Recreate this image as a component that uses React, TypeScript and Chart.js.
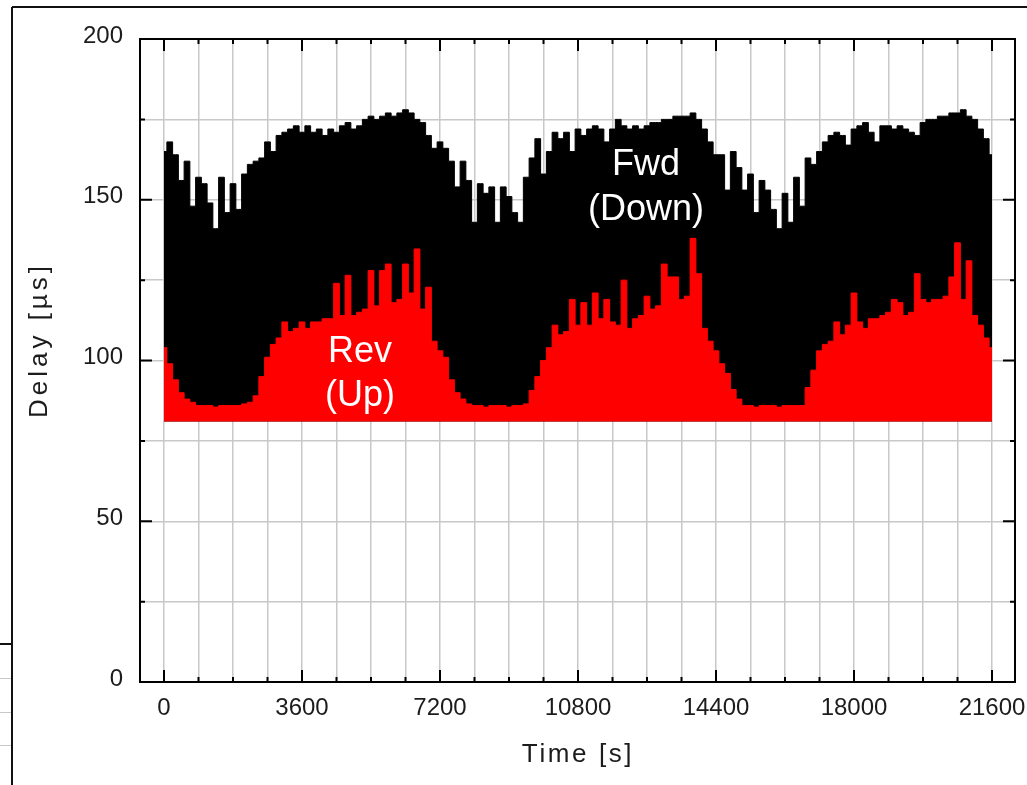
import React, { useEffect, useRef } from "react";
import { Chart, registerables } from "chart.js";

Chart.register(...registerables);

// Sampling interval of the delay series (seconds)
const SAMPLE_STEP_S = 150;

// Forward (downstream) delay in microseconds, one value per sample
const FWD_DELAY_US = [
  165, 168, 164, 156, 162, 148, 157, 155, 149, 141, 157, 146, 155, 147, 158, 161, 162, 163, 168, 165, 170, 171, 172, 173,
  171, 173, 171, 172, 170, 172, 171, 173, 174, 172, 173, 175, 176, 175, 176, 177, 176, 177, 178, 177, 175, 174, 170, 166,
  168, 166, 162, 154, 162, 156, 143, 155, 152, 154, 143, 154, 151, 146, 143, 157, 163, 169, 158, 165, 171, 169, 171, 165, 172,
  170, 172, 173, 172, 168, 172, 175, 173, 172, 173, 172, 173, 174, 174, 175, 175, 176, 176, 176, 177, 175, 172, 168, 164,
  164, 153, 165, 160, 153, 158, 146, 156, 153, 147, 141, 152, 143, 157, 148, 163, 161, 165, 168, 170, 171, 170, 167, 172, 173,
  174, 171, 168, 173, 173, 172, 173, 172, 171, 170, 174, 175, 175, 176, 176, 177, 177, 178, 176, 175, 172, 169, 164,
];

// Reverse (upstream) delay in microseconds, one value per sample
const REV_DELAY_US = [
  104, 99, 94, 90, 88, 87, 86, 86, 86, 85.5, 86, 86, 86, 86, 86.5, 87, 89, 95, 101, 105, 107, 112, 109, 110,
  112, 110, 112, 112, 113, 113, 124, 114, 126.5, 114, 115, 116, 128, 117, 128, 130, 118, 119, 130, 121, 134.7, 116, 122.8, 106,
  103, 101, 94, 90, 88, 86.5, 86, 86, 85.5, 86, 86, 86, 85.5, 86, 86, 86.5, 90.7, 95, 100, 104, 111, 108, 109, 119, 111,
  118, 111, 121, 113, 119, 112, 111, 125, 110, 113, 114, 120, 116, 117, 130, 126, 126, 119, 120, 138, 127, 110, 106, 103,
  99, 96, 91, 88, 86, 86, 85.5, 86, 86, 86, 85.5, 86, 86, 86, 86, 91.6, 97, 103, 105, 106, 112, 108, 111, 121, 112,
  110, 113, 113, 114, 115, 119, 118, 114, 115, 127, 119, 118, 119, 119, 120, 126, 136.6, 119, 131, 114, 111, 107, 104,
];

// Floor of the delay fill (microseconds)
const BASELINE_US = 81;

// Axis ticks
const X_GRID_TICKS = [
  0, 900, 1800, 2700, 3600, 4500, 5400, 6300, 7200, 8100, 9000, 9900, 10800, 11700, 12600, 13500, 14400,
  15300, 16200, 17100, 18000, 18900, 19800, 20700, 21600,
];
const X_LABEL_TICKS = [0, 3600, 7200, 10800, 14400, 18000, 21600];
const Y_GRID_TICKS = [0, 25, 50, 75, 100, 125, 150, 175, 200];
const Y_LABEL_TICKS = [0, 50, 100, 150, 200];
const X_MIN = -626;
const X_MAX = 22200;
const Y_MIN = 0;
const Y_MAX = 200;

// Axis titles and in-plot labels
const X_TITLE = "Time [s]";
const Y_TITLE = "Delay [µs]";
const FWD_LABEL = ["Fwd", "(Down)"];
const REV_LABEL = ["Rev", "(Up)"];
const FWD_LABEL_POS = { t: 12575, lines: [157.8, 143.8] };
const REV_LABEL_POS = { t: 5113, lines: [99.4, 86.0] };

const FONT = "'Liberation Sans', Arial, sans-serif";

function toPoints(values: number[]) {
  return values.map((v, i) => ({ x: i * SAMPLE_STEP_S, y: v }));
}

const decorPlugin = {
  id: "decor",
  afterDraw(chart: any) {
    const ctx: CanvasRenderingContext2D = chart.ctx;
    const { left, right, top, bottom } = chart.chartArea;
    const xs = chart.scales.x;
    const ys = chart.scales.y;
    ctx.save();

    // Screenshot window edges
    ctx.strokeStyle = "#111";
    ctx.lineWidth = 2;
    ctx.beginPath();
    ctx.moveTo(12, 7);
    ctx.lineTo(1027, 7);
    ctx.moveTo(12, 7);
    ctx.lineTo(12, 785);
    ctx.moveTo(0, 644);
    ctx.lineTo(12, 644);
    ctx.stroke();
    ctx.strokeStyle = "#c8c8c8";
    ctx.lineWidth = 1;
    ctx.beginPath();
    [678, 712, 745].forEach((y) => {
      ctx.moveTo(0, y + 0.5);
      ctx.lineTo(11, y + 0.5);
    });
    ctx.stroke();

    // Plot frame
    ctx.strokeStyle = "#000";
    ctx.lineWidth = 2;
    ctx.strokeRect(left, top, right - left, bottom - top);

    // Inward tick marks
    ctx.lineWidth = 2;
    ctx.beginPath();
    X_GRID_TICKS.forEach((v) => {
      const px = xs.getPixelForValue(v);
      const len = X_LABEL_TICKS.includes(v) ? 12 : 5;
      ctx.moveTo(px, bottom);
      ctx.lineTo(px, bottom - len);
      ctx.moveTo(px, top);
      ctx.lineTo(px, top + len);
    });
    Y_GRID_TICKS.forEach((v) => {
      const py = ys.getPixelForValue(v);
      const len = Y_LABEL_TICKS.includes(v) ? 12 : 5;
      ctx.moveTo(left, py);
      ctx.lineTo(left + len, py);
      ctx.moveTo(right, py);
      ctx.lineTo(right - len, py);
    });
    ctx.stroke();

    // Axis titles
    ctx.fillStyle = "#1c1c1c";
    ctx.font = `26px ${FONT}`;
    ctx.textAlign = "center";
    ctx.textBaseline = "middle";
    (ctx as any).letterSpacing = "2.6px";
    ctx.fillText(X_TITLE, 578, 755);
    ctx.save();
    (ctx as any).letterSpacing = "4px";
    ctx.translate(40, 340);
    ctx.rotate(-Math.PI / 2);
    ctx.fillText(Y_TITLE, 0, 0);
    ctx.restore();
    (ctx as any).letterSpacing = "0px";

    // In-plot series labels
    ctx.fillStyle = "#ffffff";
    ctx.font = `36px ${FONT}`;
    ctx.textBaseline = "alphabetic";
    FWD_LABEL.forEach((s, i) => {
      ctx.fillText(s, xs.getPixelForValue(FWD_LABEL_POS.t), ys.getPixelForValue(FWD_LABEL_POS.lines[i]));
    });
    REV_LABEL.forEach((s, i) => {
      ctx.fillText(s, xs.getPixelForValue(REV_LABEL_POS.t), ys.getPixelForValue(REV_LABEL_POS.lines[i]));
    });
    ctx.restore();
  },
};

export default function App() {
  const canvasRef = useRef<HTMLCanvasElement | null>(null);

  useEffect(() => {
    const canvas = canvasRef.current;
    if (!canvas) return;
    const chart = new Chart(canvas, {
      type: "line",
      data: {
        datasets: [
          {
            label: "Rev (Up)",
            data: toPoints(REV_DELAY_US),
            borderColor: "#ff0000",
            backgroundColor: "#ff0000",
            borderWidth: 1,
            pointRadius: 0,
            stepped: "middle",
            fill: { value: BASELINE_US },
            order: 0,
          },
          {
            label: "Fwd (Down)",
            data: toPoints(FWD_DELAY_US),
            borderColor: "#000000",
            backgroundColor: "#000000",
            borderWidth: 1,
            pointRadius: 0,
            stepped: "middle",
            fill: { value: BASELINE_US },
            order: 1,
          },
        ],
      },
      options: {
        responsive: false,
        animation: false,
        events: [],
        layout: { padding: { top: 39, right: 12, left: 0, bottom: 0 } },
        plugins: {
          legend: { display: false },
          tooltip: { enabled: false },
        },
        scales: {
          x: {
            type: "linear",
            min: X_MIN,
            max: X_MAX,
            afterBuildTicks: (scale: any) => {
              scale.ticks = X_GRID_TICKS.map((v) => ({ value: v }));
            },
            afterFit: (scale: any) => {
              scale.height = 103;
              scale.paddingLeft = 0;
              scale.paddingRight = 0;
            },
            grid: { color: "#c8c8c8", lineWidth: 1.5, drawTicks: false },
            border: { display: false },
            ticks: {
              autoSkip: false,
              maxRotation: 0,
              padding: 12,
              color: "#1c1c1c",
              font: { family: FONT, size: 24 },
              callback: (v: any) => (X_LABEL_TICKS.includes(Number(v)) ? String(v) : ""),
            },
          },
          y: {
            type: "linear",
            min: Y_MIN,
            max: Y_MAX,
            afterBuildTicks: (scale: any) => {
              scale.ticks = Y_GRID_TICKS.map((v) => ({ value: v }));
            },
            afterFit: (scale: any) => {
              scale.width = 140;
              scale.paddingTop = 0;
              scale.paddingBottom = 0;
            },
            grid: { color: "#c8c8c8", lineWidth: 1.5, drawTicks: false },
            border: { display: false },
            ticks: {
              autoSkip: false,
              padding: 17,
              labelOffset: -3,
              color: "#1c1c1c",
              font: { family: FONT, size: 24 },
              callback: (v: any) => (Y_LABEL_TICKS.includes(Number(v)) ? String(v) : ""),
            },
          },
        },
      },
      plugins: [decorPlugin],
    } as any);
    return () => chart.destroy();
  }, []);

  return (
    <canvas
      ref={canvasRef}
      width={1027}
      height={785}
      style={{ position: "absolute", left: 0, top: 0, display: "block" }}
    />
  );
}
